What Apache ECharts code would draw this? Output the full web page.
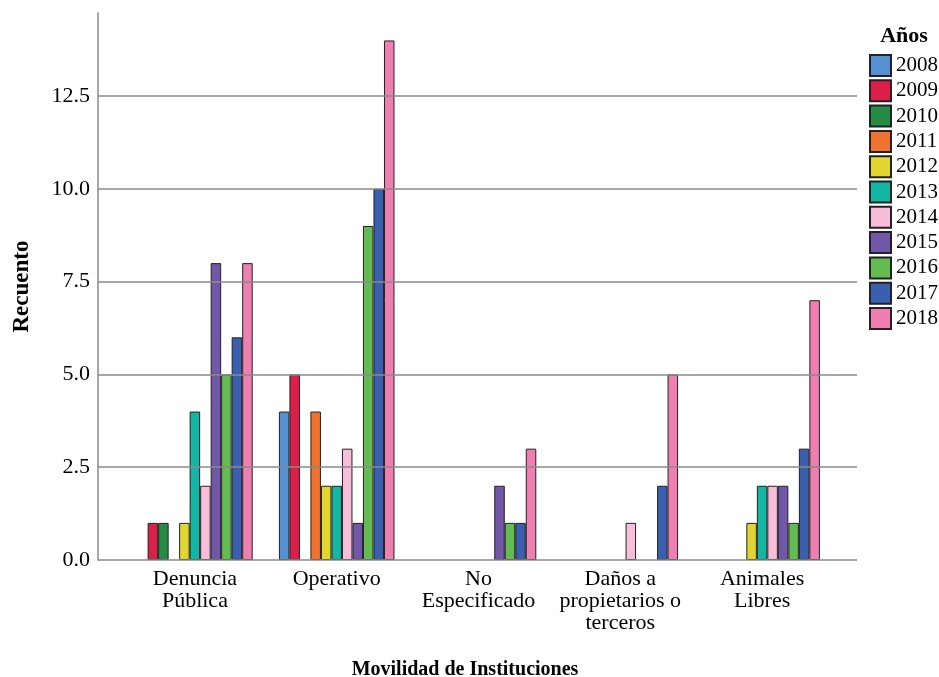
<!DOCTYPE html>
<html>
<head>
<meta charset="utf-8">
<script src="https://cdn.jsdelivr.net/npm/echarts@6/dist/echarts.min.js"></script>
<style>html,body{margin:0;padding:0;background:#fff}#c{width:939px;height:677px}</style>
</head>
<body>
<div id="c"></div>
<script>
const categories = ['Denuncia\nPública', 'Operativo', 'No\nEspecificado', 'Daños a\npropietarios o\nterceros', 'Animales\nLibres'];
const years = ['2008','2009','2010','2011','2012','2013','2014','2015','2016','2017','2018'];
const v2008 = [0, 4, 0, 0, 0];
const v2009 = [1, 5, 0, 0, 0];
const v2010 = [1, 0, 0, 0, 0];
const v2011 = [0, 4, 0, 0, 0];
const v2012 = [1, 2, 0, 0, 1];
const v2013 = [4, 2, 0, 0, 2];
const v2014 = [2, 3, 0, 1, 2];
const v2015 = [8, 1, 2, 0, 2];
const v2016 = [5, 9, 1, 0, 1];
const v2017 = [6, 10, 1, 2, 3];
const v2018 = [8, 14, 3, 5, 7];
const yTicks = [0, 2.5, 5, 7.5, 10, 12.5];
const colors = ['#5590D2','#DC1E48','#268B45','#F0722F','#E1D630','#12B6A2','#F8BDD8','#7257A8','#63BB52','#3A5FAE','#F07FB1'];

const values = [v2008, v2009, v2010, v2011, v2012, v2013, v2014, v2015, v2016, v2017, v2018];
const FONT = 'Liberation Serif';
const YMAX = 14.74;

const chart = echarts.init(document.getElementById('c'), null, {renderer: 'canvas'});

const barSeries = years.map((y, i) => ({
  name: y,
  type: 'bar',
  xAxisIndex: 1,
  yAxisIndex: 1,
  barGap: '0%',
  barCategoryGap: '18.5%',
  z: 3,
  itemStyle: {color: colors[i], borderColor: '#222', borderWidth: 1},
  data: values[i].map(v => v === 0 ? null : v)
}));

const option = {
  animation: false,
  backgroundColor: '#fff',
  title: [
    {text: 'Años', left: 899, top: 20, textAlign: 'center',
     textStyle: {fontFamily: FONT, fontSize: 22, fontWeight: 'bold', color: '#000'}},
    {text: 'Movilidad de Instituciones', left: 460, top: 655, textAlign: 'center',
     textStyle: {fontFamily: FONT, fontSize: 20, fontWeight: 'bold', color: '#000'}}
  ],
  legend: {
    data: years,
    orient: 'vertical',
    left: 864,
    top: 49,
    itemWidth: 21,
    itemHeight: 21,
    itemGap: 2.3,
    icon: 'rect',
    textStyle: {fontFamily: FONT, fontSize: 21, color: '#000', lineHeight: 21}
  },
  grid: [
    {left: 98, right: 82, top: 13, bottom: 117},
    {left: 124, right: 106, top: 13, bottom: 117}
  ],
  xAxis: [
    {type: 'value', gridIndex: 0, min: 0, max: 1, show: false},
    {type: 'category', gridIndex: 1, data: categories,
     axisLine: {show: false}, axisTick: {show: false},
     axisLabel: {fontFamily: FONT, fontSize: 22, lineHeight: 22, color: '#000', margin: 8, interval: 0}}
  ],
  yAxis: [
    {type: 'value', gridIndex: 0, min: 0, max: YMAX, interval: 2.5,
     name: 'Recuento', nameLocation: 'middle', nameGap: 64,
     nameTextStyle: {fontFamily: FONT, fontSize: 23, fontWeight: 'bold', color: '#000'},
     axisLine: {show: true, lineStyle: {color: '#8a8a8a', width: 1.5}},
     axisTick: {show: false},
     splitLine: {show: false},
     axisLabel: {fontFamily: FONT, fontSize: 22, color: '#000', margin: 8,
       formatter: v => yTicks.includes(v) ? v.toFixed(1) : ''}},
    {type: 'value', gridIndex: 1, min: 0, max: YMAX, show: false, splitLine: {show: false}}
  ],
  series: [
    {type: 'line', xAxisIndex: 0, yAxisIndex: 0, data: [[0, 0]], symbol: 'none', silent: true, z: 1,
     lineStyle: {width: 0},
     markLine: {symbol: 'none', silent: true, label: {show: false},
       lineStyle: {color: '#8a8a8a', width: 1.5, type: 'solid'},
       data: yTicks.map(t => ({yAxis: t}))}}
  ].concat(barSeries)
};
chart.setOption(option);
</script>
</body>
</html>
